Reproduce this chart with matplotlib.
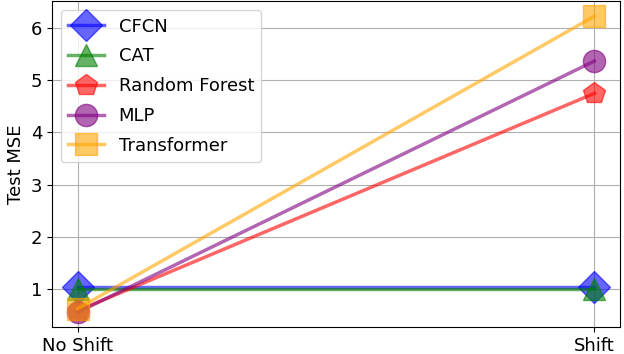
import matplotlib
matplotlib.use("Agg")
import matplotlib.pyplot as plt

# data
settings = ["No Shift", "Shift"]
models = ["CFCN", "CAT", "Random Forest", "MLP", "Transformer"]
mse_cfcn = [1.04, 1.04]
mse_cat = [1.0, 1.0]
mse_rf = [0.58, 4.75]
mse_mlp = [0.55, 5.37]
mse_transformer = [0.62, 6.23]

colors = ["blue", "green", "red", "purple", "orange"]
markers = ["D", "^", "p", "o", "s"]
series = [mse_cfcn, mse_cat, mse_rf, mse_mlp, mse_transformer]

plt.rcParams['font.size'] = 13

fig, ax = plt.subplots(figsize=(6.24, 3.54), dpi=100)
x = list(range(len(settings)))
for name, vals, c, m in zip(models, series, colors, markers):
    ax.plot(x, vals, color=c, marker=m, markersize=16, linewidth=2.5, alpha=0.6, label=name)

ax.set_xticks(x)
ax.set_xticklabels(settings)
ax.set_ylabel("Test MSE")
ax.grid(True)
ax.legend(loc='upper left', labelspacing=0.65)

# axes box placed to match the original
fig.subplots_adjust(left=0.083, right=0.994, top=0.996, bottom=0.076)
plt.savefig("out.png")
